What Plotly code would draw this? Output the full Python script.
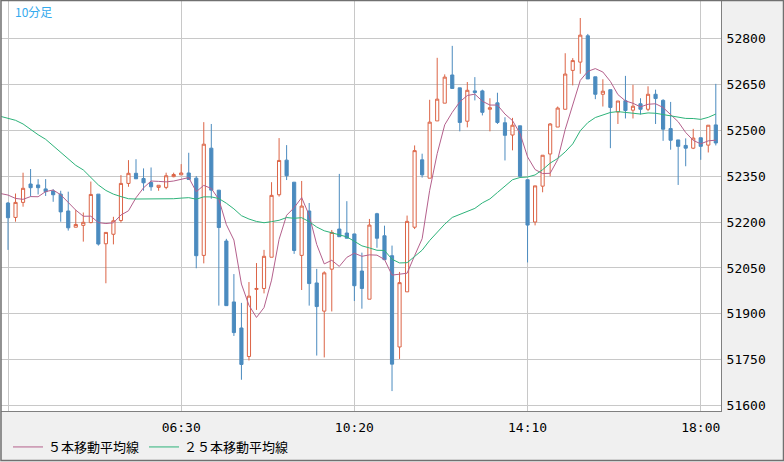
import plotly.graph_objects as go

# ---- data ----
open_ = [52262, 52215, 52264, 52324, 52321, 52308, 52301, 52291, 52236, 52183,
         52189, 52198, 52291, 52129, 52160, 52205, 52326, 52359, 52342, 52329,
         52313, 52313, 52348, 52354, 52360, 52343, 52091, 52441, 52304, 52138,
         51939, 51854, 51761, 51980, 51983, 52085, 52289, 52402, 52330, 52091,
         52236, 52001, 51909, 52046, 52177, 52164, 52161, 52040, 51948, 52227,
         52155, 52090, 51792, 51972, 52183, 52403, 52343, 52530, 52588, 52680,
         52638, 52529, 52628, 52628, 52568, 52589, 52524, 52484, 52514, 52338,
         52200, 52317, 52422, 52510, 52568, 52695, 52722, 52808, 52674, 52617,
         52632, 52559, 52596, 52565, 52586, 52568, 52617, 52597, 52505, 52468,
         52450, 52441, 52475, 52451, 52517]
high = [52265, 52293, 52361, 52373, 52340, 52340, 52307, 52302, 52299, 52239,
        52231, 52332, 52291, 52166, 52217, 52353, 52402, 52405, 52375, 52378,
        52320, 52361, 52361, 52389, 52426, 52350, 52526, 52520, 52304, 52145,
        52030, 51936, 52004, 52066, 52109, 52330, 52474, 52451, 52330, 52334,
        52262, 52047, 52039, 52174, 52357, 52268, 52161, 52100, 52210, 52230,
        52188, 52123, 52037, 52221, 52450, 52423, 52599, 52736, 52682, 52775,
        52638, 52657, 52673, 52632, 52604, 52622, 52542, 52540, 52514, 52338,
        52318, 52418, 52523, 52577, 52751, 52735, 52866, 52814, 52674, 52666,
        52632, 52595, 52677, 52648, 52604, 52643, 52632, 52601, 52592, 52468,
        52473, 52504, 52475, 52516, 52651]
low = [52109, 52201, 52250, 52283, 52290, 52285, 52266, 52201, 52172, 52183,
       52136, 52196, 52123, 52000, 52127, 52198, 52315, 52341, 52302, 52302,
       52302, 52307, 52346, 52354, 52339, 52049, 52065, 52276, 51927, 51927,
       51828, 51685, 51748, 51913, 51967, 52085, 52283, 52337, 52096, 51978,
       51927, 51764, 51758, 51908, 52152, 52147, 51942, 51917, 51948, 52116,
       52077, 51648, 51753, 51972, 52177, 52345, 52343, 52530, 52588, 52636,
       52496, 52509, 52597, 52548, 52496, 52520, 52401, 52434, 52349, 52068,
       52189, 52297, 52349, 52510, 52568, 52646, 52684, 52667, 52601, 52577,
       52441, 52520, 52538, 52538, 52551, 52562, 52520, 52465, 52436, 52321,
       52382, 52438, 52403, 52427, 52450]
close = [52214, 52264, 52310, 52312, 52312, 52299, 52289, 52233, 52181, 52192,
         52199, 52290, 52128, 52166, 52204, 52326, 52359, 52341, 52328, 52315,
         52320, 52351, 52355, 52360, 52339, 52090, 52454, 52304, 52182, 51927,
         51839, 51735, 51958, 51983, 52088, 52287, 52401, 52351, 52107, 52252,
         51999, 51924, 52034, 52166, 52152, 52147, 51992, 51983, 52190, 52147,
         52077, 51736, 52002, 52202, 52433, 52354, 52526, 52601, 52673, 52636,
         52525, 52630, 52623, 52558, 52573, 52525, 52483, 52516, 52349, 52190,
         52318, 52418, 52520, 52572, 52683, 52727, 52810, 52667, 52617, 52627,
         52574, 52595, 52564, 52578, 52568, 52617, 52603, 52503, 52467, 52447,
         52441, 52474, 52447, 52516, 52458]

# moving-average values before enough bars are visible (bars -1..)
ma5_lead = [52293, 52288, 52277, 52274, 52283]
ma25_lead = [52545, 52538, 52532, 52520, 52501, 52485, 52470, 52448, 52427, 52405,
             52385, 52370, 52346, 52321, 52303, 52291, 52283, 52276, 52275, 52275,
             52275, 52275, 52276, 52276, 52278]

tick_pos = [0, 23, 46, 69, 92]
tick_labels = ["", "06:30", "10:20", "14:10", "18:00"]
y_ticks = [51600, 51750, 51900, 52050, 52200, 52350, 52500, 52650, 52800]

title_text = "10分足"
ma5_name = "５本移動平均線"
ma25_name = "２５本移動平均線"

# ---- derived ----
n = len(close)
bars = list(range(n))
ma5 = list(ma5_lead) + [sum(close[i - 4:i + 1]) / 5 for i in range(4, n)]
ma25 = list(ma25_lead) + [sum(close[i - 24:i + 1]) / 25 for i in range(24, n)]
ma_x = list(range(-1, n))

RED = "#dc6446"
BLUE = "#4b8bbf"

fig = go.Figure()
fig.add_trace(go.Candlestick(
    x=bars, open=open_, high=high, low=low, close=close,
    increasing=dict(line=dict(color=RED, width=1), fillcolor="white"),
    decreasing=dict(line=dict(color=BLUE, width=1), fillcolor=BLUE),
    whiskerwidth=0, showlegend=False, hoverinfo="skip",
))
fig.add_trace(go.Scatter(x=ma_x, y=ma5, mode="lines", name=ma5_name,
                         line=dict(color="#b4608c", width=1), hoverinfo="skip"))
fig.add_trace(go.Scatter(x=ma_x, y=ma25, mode="lines", name=ma25_name,
                         line=dict(color="#2db37a", width=1), hoverinfo="skip"))

W, H = 784, 462
L, R, T, B = 1, 63, 1, 50
pw, ph = W - L - R, H - T - B

def px_x(px):
    return (px - L) / pw

def px_y(py):
    return (H - B - py) / ph

fig.update_layout(
    width=W, height=H,
    margin=dict(l=L, r=R, t=T, b=B, pad=0),
    paper_bgcolor="#f0f0f0", plot_bgcolor="white",
    boxgap=0.4,
    hovermode=False,
    font=dict(family="DejaVu Sans Mono", size=13, color="black"),
    xaxis=dict(
        range=[-0.93, 94.69], rangeslider=dict(visible=False),
        tickmode="array", tickvals=tick_pos, ticktext=tick_labels,
        showgrid=True, gridcolor="#c8c8c8", gridwidth=1, zeroline=False,
        showline=True, linecolor="#808080", linewidth=1,
        ticks="", ticklabelstandoff=4,
        tickfont=dict(family="DejaVu Sans Mono", size=13, color="black"),
    ),
    yaxis=dict(
        range=[51583, 52921.5], side="right",
        tickmode="array", tickvals=y_ticks, ticktext=[str(v) for v in y_ticks],
        showgrid=True, gridcolor="#c8c8c8", gridwidth=1, zeroline=False,
        showline=True, linecolor="#808080", linewidth=1,
        ticks="", ticklabelstandoff=2,
        tickfont=dict(family="DejaVu Sans Mono", size=13, color="black"),
    ),
    legend=dict(
        orientation="h", x=px_x(8), y=px_y(447), xanchor="left", yanchor="middle",
        bgcolor="rgba(0,0,0,0)", itemclick=False,
        font=dict(family="Noto Sans CJK JP", size=13, color="black"),
        tracegroupgap=0,
    ),
    annotations=[dict(
        text=title_text, xref="paper", yref="paper", x=px_x(13), y=px_y(12),
        xanchor="left", yanchor="middle", showarrow=False,
        font=dict(family="Noto Sans CJK JP", size=12, color="#33aaee"),
    )],
    shapes=[dict(
        type="rect", xref="paper", yref="paper",
        x0=px_x(1), x1=px_x(783.5), y0=px_y(461.5), y1=px_y(0.5),
        line=dict(color="#707070", width=1.5), fillcolor="rgba(0,0,0,0)",
        layer="above",
    )],
)

fig.write_html("out.html")
